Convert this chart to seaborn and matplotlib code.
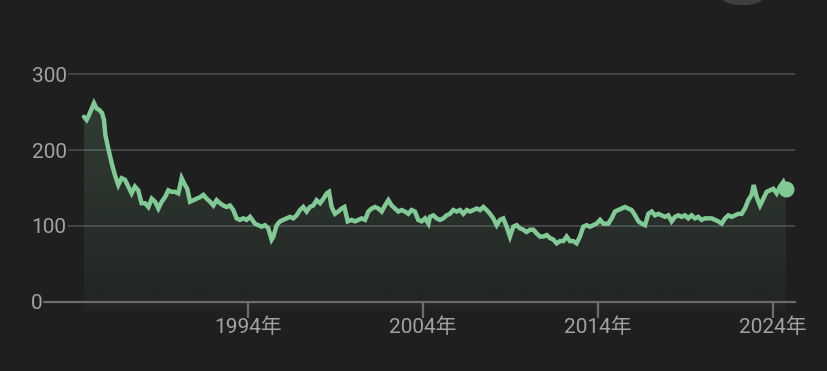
import numpy as np
import matplotlib
matplotlib.use("Agg")
import matplotlib.pyplot as plt
import matplotlib.transforms as mtransforms
from matplotlib.patches import FancyBboxPatch
import seaborn as sns
import pandas as pd

# ---- data ----
years = [
    1984.63, 1984.78, 1984.93, 1985.07, 1985.20, 1985.35, 1985.51, 1985.66, 1985.77, 1985.85,
    1986.02, 1986.21, 1986.40, 1986.59, 1986.78, 1986.97, 1987.16, 1987.35, 1987.54, 1987.73,
    1987.92, 1988.12, 1988.31, 1988.50, 1988.69, 1988.88, 1989.07, 1989.26, 1989.45, 1989.64,
    1989.83, 1990.02, 1990.21, 1990.40, 1990.53, 1990.69, 1990.88, 1991.07, 1991.26, 1991.45,
    1991.64, 1991.83, 1992.02, 1992.21, 1992.40, 1992.59, 1992.78, 1992.97, 1993.16, 1993.35,
    1993.54, 1993.73, 1993.92, 1994.12, 1994.31,
    1994.40, 1994.59, 1994.78, 1994.97, 1995.16, 1995.35, 1995.45, 1995.64, 1995.83, 1996.02,
    1996.21, 1996.40, 1996.59, 1996.78, 1996.97, 1997.16, 1997.35, 1997.54, 1997.73, 1997.92,
    1998.12, 1998.31, 1998.50, 1998.63, 1998.78, 1998.97, 1999.16, 1999.35, 1999.51, 1999.70,
    1999.92, 2000.12, 2000.31, 2000.50, 2000.69, 2000.88, 2001.07, 2001.26, 2001.45, 2001.64,
    2001.83, 2002.02, 2002.21, 2002.40, 2002.59, 2002.78, 2002.97, 2003.16, 2003.35, 2003.54,
    2003.73, 2003.92, 2004.12, 2004.31,
    2004.40, 2004.59, 2004.78, 2004.97, 2005.16, 2005.35, 2005.54, 2005.73, 2005.92, 2006.12,
    2006.31, 2006.50, 2006.69, 2006.88, 2007.07, 2007.26, 2007.45, 2007.64, 2007.83, 2008.02,
    2008.21, 2008.40, 2008.59, 2008.78, 2008.97, 2009.16, 2009.35, 2009.54, 2009.73, 2009.92,
    2010.12, 2010.31, 2010.50, 2010.69, 2010.88, 2011.07, 2011.26, 2011.45, 2011.64, 2011.83,
    2012.02, 2012.21, 2012.40, 2012.59, 2012.78, 2012.97, 2013.16, 2013.35, 2013.54, 2013.73,
    2013.92, 2014.12, 2014.31,
    2014.40, 2014.59, 2014.78, 2014.97, 2015.16, 2015.35, 2015.54, 2015.73, 2015.92, 2016.12,
    2016.31, 2016.50, 2016.69, 2016.88, 2017.07, 2017.26, 2017.45, 2017.64, 2017.83, 2018.02,
    2018.21, 2018.40, 2018.59, 2018.78, 2018.97, 2019.16, 2019.35, 2019.54, 2019.73, 2019.92,
    2020.12, 2020.31, 2020.50, 2020.69, 2020.88, 2021.07, 2021.26, 2021.45, 2021.64, 2021.83,
    2022.02, 2022.21, 2022.40, 2022.59, 2022.78, 2022.90, 2023.07, 2023.26, 2023.45, 2023.64,
    2023.83, 2024.02, 2024.21, 2024.40, 2024.59, 2024.74,
]
values = [
    244, 240, 247, 255, 262, 255, 253, 249, 240, 220,
    202, 183, 167, 154, 163, 161, 152, 143, 152, 147,
    130, 130, 125, 136, 132, 123, 132, 138, 147, 145,
    145, 143, 163, 154, 149, 132, 134, 136, 138, 141,
    136, 132, 127, 134, 130, 127, 125, 127, 121, 110,
    108, 110, 108, 112, 106,
    103, 101, 99, 101, 97, 82, 86, 101, 106, 108,
    110, 112, 110, 114, 121, 125, 119, 125, 127, 134,
    130, 136, 143, 145, 125, 116, 119, 123, 125, 106,
    108, 106, 108, 110, 108, 119, 123, 125, 123, 119,
    127, 134, 127, 123, 119, 121, 119, 116, 121, 119,
    108, 106, 110, 103,
    112, 114, 110, 108, 110, 114, 116, 121, 119, 121,
    116, 121, 119, 121, 123, 121, 125, 121, 116, 110,
    101, 108, 110, 99, 86, 99, 101, 97, 95, 92,
    95, 95, 90, 86, 86, 88, 84, 82, 77, 80,
    80, 86, 80, 80, 77, 86, 99, 101, 99, 101,
    103, 108, 103,
    103, 103, 110, 119, 121, 123, 125, 123, 121, 114,
    106, 103, 101, 116, 119, 114, 116, 114, 112, 114,
    106, 112, 114, 112, 114, 110, 114, 110, 112, 108,
    110, 110, 110, 108, 106, 103, 110, 114, 112, 114,
    116, 116, 123, 134, 141, 154, 138, 127, 136, 145,
    147, 149, 143, 152, 158, 149,
]
y_ticks = [0, 100, 200, 300]
x_ticks = [1994, 2004, 2014, 2024]
x_tick_labels = ["1994年", "2004年", "2014年", "2024年"]

# ---- style ----
BG = "#1f1f1f"
LINE = "#81c995"
GRID = "#47494b"
AXIS = "#6c6c6c"
TXT = "#a2a2a2"

sns.set_theme(style="dark")
plt.rcParams["font.family"] = ["Roboto", "Noto Sans CJK JP", "DejaVu Sans"]

W, H, DPI = 828, 371, 100
fig = plt.figure(figsize=(W / DPI, H / DPI), dpi=DPI, facecolor=BG)

# axes placement in pixels
ax_left, ax_right = 68, 795
ymin, ymax = -12, 305
px_per_val = 0.7577
y0_px = 301.7
top_px = y0_px - ymax * px_per_val
bot_px = y0_px - ymin * px_per_val
ax = fig.add_axes([ax_left / W, (H - bot_px) / H, (ax_right - ax_left) / W, (bot_px - top_px) / H])
ax.set_facecolor(BG)

px_per_year = 17.5
x_start_px = 84
xmin = years[0] - (x_start_px - ax_left) / px_per_year
xmax = years[0] + (ax_right - x_start_px) / px_per_year

df = pd.DataFrame({"year": years, "value": values})

# gradient fill under the line
poly = ax.fill_between(df["year"], df["value"], ymin, facecolor="none", edgecolor="none")
n = 256
grad = np.zeros((n, 1, 4))
rgb = matplotlib.colors.to_rgb(LINE)
grad[:, 0, 0] = rgb[0]
grad[:, 0, 1] = rgb[1]
grad[:, 0, 2] = rgb[2]
grad[:, 0, 3] = np.linspace(0.18, 0.04, n)
im = ax.imshow(grad, aspect="auto", extent=[years[0], years[-1], ymin, 265],
               origin="upper", zorder=1, interpolation="bilinear")
im.set_clip_path(poly.get_paths()[0], ax.transData)
ax.set_xlim(xmin, xmax)
ax.set_ylim(ymin, ymax)

# grid lines (100, 200, 300)
for v in y_ticks[1:]:
    ax.axhline(v, color=GRID, lw=1.3, zorder=0.5)
# baseline, extended to the left
ax.axhline(0, xmin=-(ax_left - 44) / (ax_right - ax_left), xmax=1.0, color=AXIS, lw=1.6,
           clip_on=False, zorder=2)

sns.lineplot(data=df, x="year", y="value", ax=ax, color=LINE, lw=3.2, zorder=3,
             solid_joinstyle="miter")
ax.plot([years[-1]], [values[-1]], "o", color=LINE, markersize=11.5, zorder=4,
        markeredgewidth=0)

for s in ax.spines.values():
    s.set_visible(False)
ax.spines["bottom"].set_position(("data", 0))

ax.set_xticks(x_ticks)
ax.set_xticklabels(x_tick_labels)
ax.set_yticks(y_ticks)
ax.set_yticklabels([str(v) for v in y_ticks])
ax.tick_params(axis="x", length=11.5, width=1.6, color=AXIS, pad=0, labelsize=15,
               labelcolor=TXT, bottom=True)
ax.tick_params(axis="y", length=0, pad=1, labelsize=15, labelcolor=TXT, left=True)
ax.set_xlabel("")
ax.set_ylabel("")
ax.grid(False)

# shift the "0" label left of the extended baseline
off = mtransforms.ScaledTranslation(-(ax_left - 44) / DPI, 0, fig.dpi_scale_trans)
for t in ax.yaxis.get_major_ticks()[:1]:
    t.label1.set_transform(t.label1.get_transform() + off)

# partial pill button at top right
btn = FancyBboxPatch((715 / W, (H - 5) / H), (770 - 715) / W, 30 / H,
                     boxstyle="round,pad=0,rounding_size=0.03", transform=fig.transFigure,
                     facecolor="#3c4043", edgecolor="none", clip_on=False,
                     mutation_aspect=W / H)
fig.patches.append(btn)

fig.savefig("out.png", dpi=DPI, facecolor=BG)
